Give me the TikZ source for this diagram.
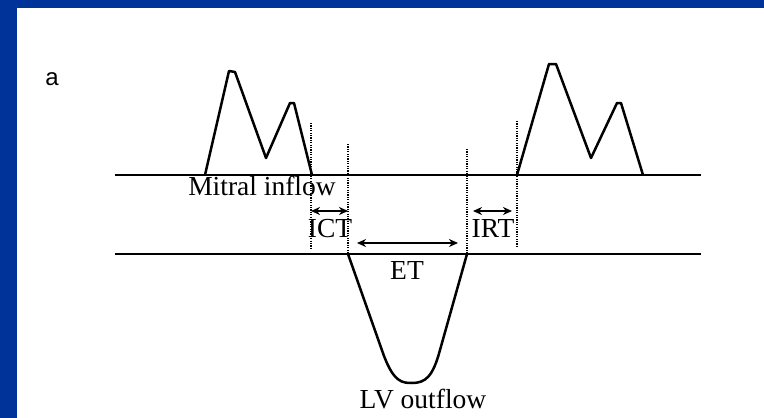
\documentclass[tikz,border=0pt]{standalone}
\usepackage{fontspec}
\setmainfont{Liberation Serif}
\newfontfamily\labelsans{Liberation Sans}
\usetikzlibrary{arrows.meta}
\definecolor{frameblue}{RGB}{0,51,153}
\definecolor{baseline}{RGB}{55,55,55}
\tikzset{
  trace/.style={line width=2.5pt, line join=round, black},
  axisline/.style={line width=1.8pt, baseline},
  marker/.style={line width=1.4pt, dash pattern=on 1.2pt off 1.2pt, black},
  interval/.style={line width=1.6pt, {Stealth[length=9pt,width=8pt]}-{Stealth[length=9pt,width=8pt]}},
  lbl/.style={font=\fontsize{27.5}{30}\selectfont, anchor=base, inner sep=0pt},
}
\begin{document}
\begin{tikzpicture}[x=1pt,y=-1pt]
\useasboundingbox (0,0) rectangle (764,418);
\fill[white] (0,0) rectangle (764,418);
\fill[frameblue] (0,0) rectangle (764,8);
\fill[frameblue] (0,0) rectangle (17,418);

\node[font=\labelsans\fontsize{24}{26}\selectfont, anchor=base, inner sep=0pt] (panel) at (52,85) {a};

% baselines
\coordinate (ul) at (115,175); \coordinate (ur) at (701,175);
\coordinate (ll) at (115,254); \coordinate (lr) at (701,254);
\draw[axisline] (ul) -- (ur);
\draw[axisline] (ll) -- (lr);

% mitral inflow traces
\draw[trace] (205,175) -- (229,71) -- (235,72) -- (266,158) -- (290,103) -- (294,103) -- (312,175);
\draw[trace] (517,175) -- (549,64) -- (556,64) -- (591,158) -- (617,103) -- (621,103) -- (643,175);

% LV outflow
\draw[trace] (348,254) -- (384,356) .. controls (394,382) and (402,383) .. (412,383)
  .. controls (426,383) and (433,376) .. (440,350) -- (467,254);

% dotted markers
\coordinate (d1t) at (311,123); \coordinate (d1b) at (311,249);
\coordinate (d2t) at (348,144); \coordinate (d2b) at (348,254);
\coordinate (d3t) at (467,149); \coordinate (d3b) at (467,254);
\coordinate (d4t) at (517,121); \coordinate (d4b) at (517,246);
\draw[marker] (d1t) -- (d1b);
\draw[marker] (d2t) -- (d2b);
\draw[marker] (d3t) -- (d3b);
\draw[marker] (d4t) -- (d4b);

% intervals
\coordinate (icta) at (311,211); \coordinate (ictb) at (348,211);
\coordinate (eta) at (357,243); \coordinate (etb) at (458,243);
\coordinate (irta) at (473,211); \coordinate (irtb) at (512,211);
\draw[interval] (icta) -- (ictb);
\draw[interval] (eta) -- (etb);
\draw[interval] (irta) -- (irtb);

% labels
\node[lbl] (mi) at (262,195) {Mitral inflow};
\node[lbl] (ict) at (330,237) {ICT};
\node[lbl] (irt) at (493,237) {IRT};
\node[lbl] (et) at (407,279) {ET};
\node[lbl] (lv) at (423,408) {LV outflow};
\end{tikzpicture}
\end{document}
